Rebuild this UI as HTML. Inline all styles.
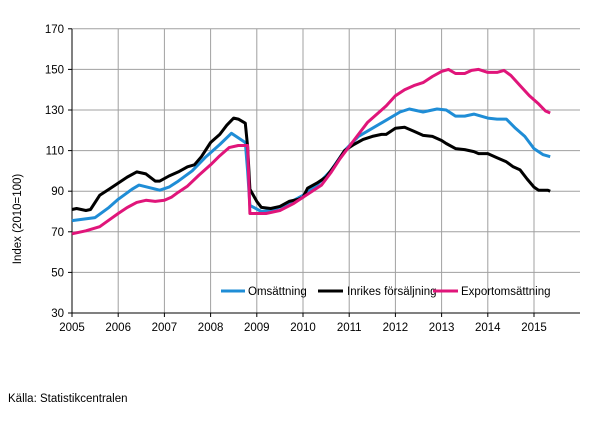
<!DOCTYPE html>
<html><head><meta charset="utf-8"><style>
body{margin:0;background:#fff;width:605px;height:416px;overflow:hidden}
text{font-family:"Liberation Sans",sans-serif;font-size:11.5px;fill:#000}
</style></head><body>
<svg id="s" width="605" height="416" xmlns="http://www.w3.org/2000/svg">
<g id="grid" stroke="#a0a0a0" stroke-width="1"></g>
<g id="lab"></g>
<line x1="72" y1="29" x2="72" y2="313" stroke="#000"/>
<line x1="72" y1="313" x2="580" y2="313" stroke="#000"/>
<text x="0" y="0" transform="translate(21,219) rotate(-90)" text-anchor="middle">Index (2010=100)</text>
<line x1="221" y1="291" x2="245" y2="291" stroke="#1f8dd6" stroke-width="3"/>
<text x="248" y="295">Omsättning</text>
<line x1="318" y1="291" x2="343" y2="291" stroke="#000" stroke-width="3"/>
<text x="347" y="295">Inrikes försäljning</text>
<line x1="433" y1="291" x2="458" y2="291" stroke="#e0157a" stroke-width="3"/>
<text x="461" y="295">Exportomsättning</text>
<text x="8" y="402">Källa: Statistikcentralen</text>
<g id="ser" fill="none" stroke-width="3" stroke-linejoin="round"></g>
</svg>
<script>
const X=t=>72+46.2*(t-2005), Y=v=>313-(v-30)*2.03;
const ns="http://www.w3.org/2000/svg";
const g=document.getElementById('grid'),lab=document.getElementById('lab');
function el(p,t,a,txt){const e=document.createElementNS(ns,t);for(const k in a)e.setAttribute(k,a[k]);if(txt)e.textContent=txt;p.appendChild(e);return e;}
for(let v=50;v<=170;v+=20)el(g,'line',{x1:72,x2:580,y1:Y(v),y2:Y(v)});
for(let v=30;v<=170;v+=20){el(lab,'text',{x:64,y:Y(v)+4,'text-anchor':'end'},v);el(lab,'line',{x1:68,x2:72,y1:Y(v),y2:Y(v),stroke:'#000'});}
for(let yr=2006;yr<=2016;yr++){if(X(yr)<=580)el(g,'line',{x1:X(yr),x2:X(yr),y1:29,y2:313});}
for(let yr=2005;yr<=2015;yr++){el(lab,'text',{x:X(yr),y:331,'text-anchor':'middle'},yr);el(lab,'line',{x1:X(yr),x2:X(yr),y1:313,y2:317,stroke:'#000'});}
const blue=[[2005,75.5],[2005.5,77],[2005.8,82],[2006,86],[2006.3,91],[2006.45,93],[2006.9,90.5],[2007.1,92],[2007.3,95],[2007.6,100],[2007.9,107],[2008.2,113],[2008.45,118.5],[2008.75,114],[2008.8,100],[2008.85,83],[2009.1,80],[2009.3,80.5],[2009.6,83],[2010,88],[2010.3,93],[2010.6,100],[2010.9,110],[2011.2,117],[2011.5,121],[2011.8,125],[2012.1,129],[2012.3,130.5],[2012.6,129],[2012.9,130.5],[2013.1,130],[2013.3,127],[2013.5,127],[2013.7,128],[2014,126],[2014.2,125.5],[2014.4,125.5],[2014.6,121],[2014.8,117],[2015,111],[2015.2,108],[2015.35,107]];
const black=[[2005,81],[2005.1,81.5],[2005.3,80.5],[2005.4,81],[2005.6,88],[2005.8,91],[2006,94],[2006.2,97],[2006.4,99.5],[2006.6,98.5],[2006.8,95],[2006.9,95],[2007.1,97.5],[2007.3,99.5],[2007.5,102],[2007.65,103],[2007.8,107],[2008,114],[2008.2,118],[2008.35,122.5],[2008.5,126],[2008.6,125.5],[2008.75,123.5],[2008.8,112],[2008.85,91],[2009,85],[2009.1,82],[2009.3,81.5],[2009.5,82.5],[2009.7,85],[2009.9,86],[2010,87],[2010.1,91.5],[2010.3,94],[2010.5,97],[2010.7,103],[2010.9,110],[2011.1,113],[2011.3,115.5],[2011.5,117],[2011.7,118],[2011.8,118],[2012,121],[2012.2,121.5],[2012.4,119.5],[2012.6,117.5],[2012.8,117],[2013,115],[2013.1,113.5],[2013.3,111],[2013.5,110.5],[2013.7,109.5],[2013.8,108.5],[2014,108.5],[2014.2,106.5],[2014.4,104.5],[2014.55,102],[2014.7,100.5],[2014.85,96],[2015,92],[2015.1,90.5],[2015.3,90.5],[2015.35,90]];
const pink=[[2005,69],[2005.3,70.5],[2005.6,72.5],[2005.75,75],[2006,79],[2006.2,82],[2006.4,84.5],[2006.6,85.5],[2006.8,85],[2007,85.5],[2007.15,87],[2007.3,89.5],[2007.5,92.5],[2007.75,98],[2008,103],[2008.2,107.5],[2008.4,111.5],[2008.6,112.5],[2008.8,112.5],[2008.85,79],[2009.2,79],[2009.5,80.5],[2009.8,84],[2010,87],[2010.2,90],[2010.4,93],[2010.6,99],[2010.8,106],[2011,112],[2011.2,118],[2011.4,124],[2011.6,128],[2011.8,132],[2012,137],[2012.2,140],[2012.4,142],[2012.6,143.5],[2012.8,146.5],[2013,149],[2013.15,150],[2013.3,148],[2013.5,148],[2013.65,149.5],[2013.8,150],[2014,148.5],[2014.2,148.5],[2014.35,149.5],[2014.5,147],[2014.7,142],[2014.9,137],[2015.1,133],[2015.25,129.5],[2015.35,128.5]];
const s=document.getElementById('ser');
[[blue,'#1f8dd6'],[black,'#000'],[pink,'#e0157a']].forEach(([d,c])=>el(s,'polyline',{stroke:c,points:d.map(p=>X(p[0]).toFixed(1)+','+Y(p[1]).toFixed(1)).join(' ')}));
</script>
</body></html>
